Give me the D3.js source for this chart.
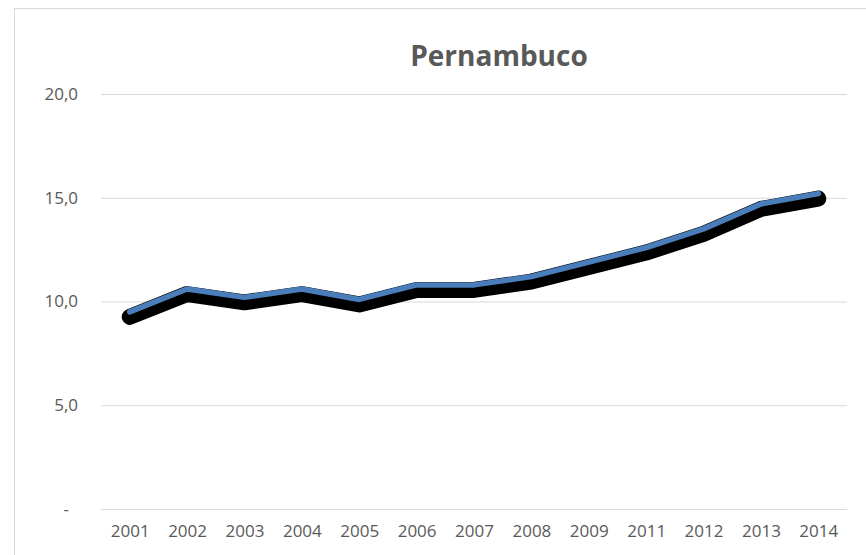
<!DOCTYPE html>
<html>
<head>
<meta charset="utf-8">
<script src="https://cdn.jsdelivr.net/npm/d3@7"></script>
<style>
  body { margin: 0; background: #fff; }
  text { font-family: "Open Sans", sans-serif; fill: #595959; }
</style>
</head>
<body>
<script>
// data
const years = ["2001", "2002", "2003", "2004", "2005", "2006", "2007",
               "2008", "2009", "2011", "2012", "2013", "2014"];
const values = [9.5, 10.6, 10.2, 10.6, 10.1, 10.8, 10.8,
                11.2, 11.9, 12.6, 13.5, 14.7, 15.2];
const yTicks = [0, 5, 10, 15, 20];
const title = "Pernambuco";

const W = 866, H = 555;
const plot = { left: 101, right: 847, top: 94, bottom: 509 };

const svg = d3.select("body").append("svg")
  .attr("width", W)
  .attr("height", H);

// chart area border (runs off the right and bottom of the picture)
svg.append("rect")
  .attr("x", 14.5).attr("y", 8.5)
  .attr("width", 1000).attr("height", 1000)
  .attr("fill", "none")
  .attr("stroke", "#d9d9d9");

const x = d3.scalePoint()
  .domain(years)
  .range([plot.left, plot.right])
  .padding(0.5);

const y = d3.scaleLinear()
  .domain([0, 20])
  .range([plot.bottom, plot.top]);

// y axis with gridlines
const yAxis = svg.append("g")
  .attr("transform", `translate(${plot.left},0)`)
  .call(d3.axisLeft(y)
    .tickValues(yTicks)
    .tickSize(-(plot.right - plot.left))
    .tickPadding(23)
    .tickFormat(d => d === 0 ? "-" : d3.format(".1f")(d).replace(".", ",")));
yAxis.select(".domain").remove();
yAxis.selectAll(".tick line").attr("stroke", "#d9d9d9").attr("stroke-width", 1);
yAxis.selectAll(".tick text")
  .style("font-size", "17px")
  .style("fill", "#595959")
  .attr("dx", d => d === 0 ? -9 : 0);

// x axis labels
const xAxis = svg.append("g")
  .attr("transform", `translate(0,${plot.bottom})`)
  .call(d3.axisBottom(x).tickSize(0).tickPadding(16));
xAxis.select(".domain").remove();
xAxis.selectAll(".tick text")
  .style("font-size", "17px")
  .style("fill", "#595959");

const line = d3.line()
  .x((d, i) => x(years[i]))
  .y(d => y(d));

// black shadow under the series
svg.append("path")
  .datum(values)
  .attr("d", line)
  .attr("transform", "translate(0,5)")
  .attr("fill", "none")
  .attr("stroke", "#000")
  .attr("stroke-width", 16)
  .attr("stroke-linejoin", "round")
  .attr("stroke-linecap", "round");

svg.append("path")
  .datum(values)
  .attr("d", line)
  .attr("fill", "none")
  .attr("stroke", "#4a7ebb")
  .attr("stroke-width", 5.5)
  .attr("stroke-linejoin", "round")
  .attr("stroke-linecap", "round");

svg.append("text")
  .attr("x", 499)
  .attr("y", 55)
  .attr("text-anchor", "middle")
  .attr("dominant-baseline", "central")
  .style("font-size", "28px")
  .style("font-weight", "bold")
  .text(title);
</script>
</body>
</html>
